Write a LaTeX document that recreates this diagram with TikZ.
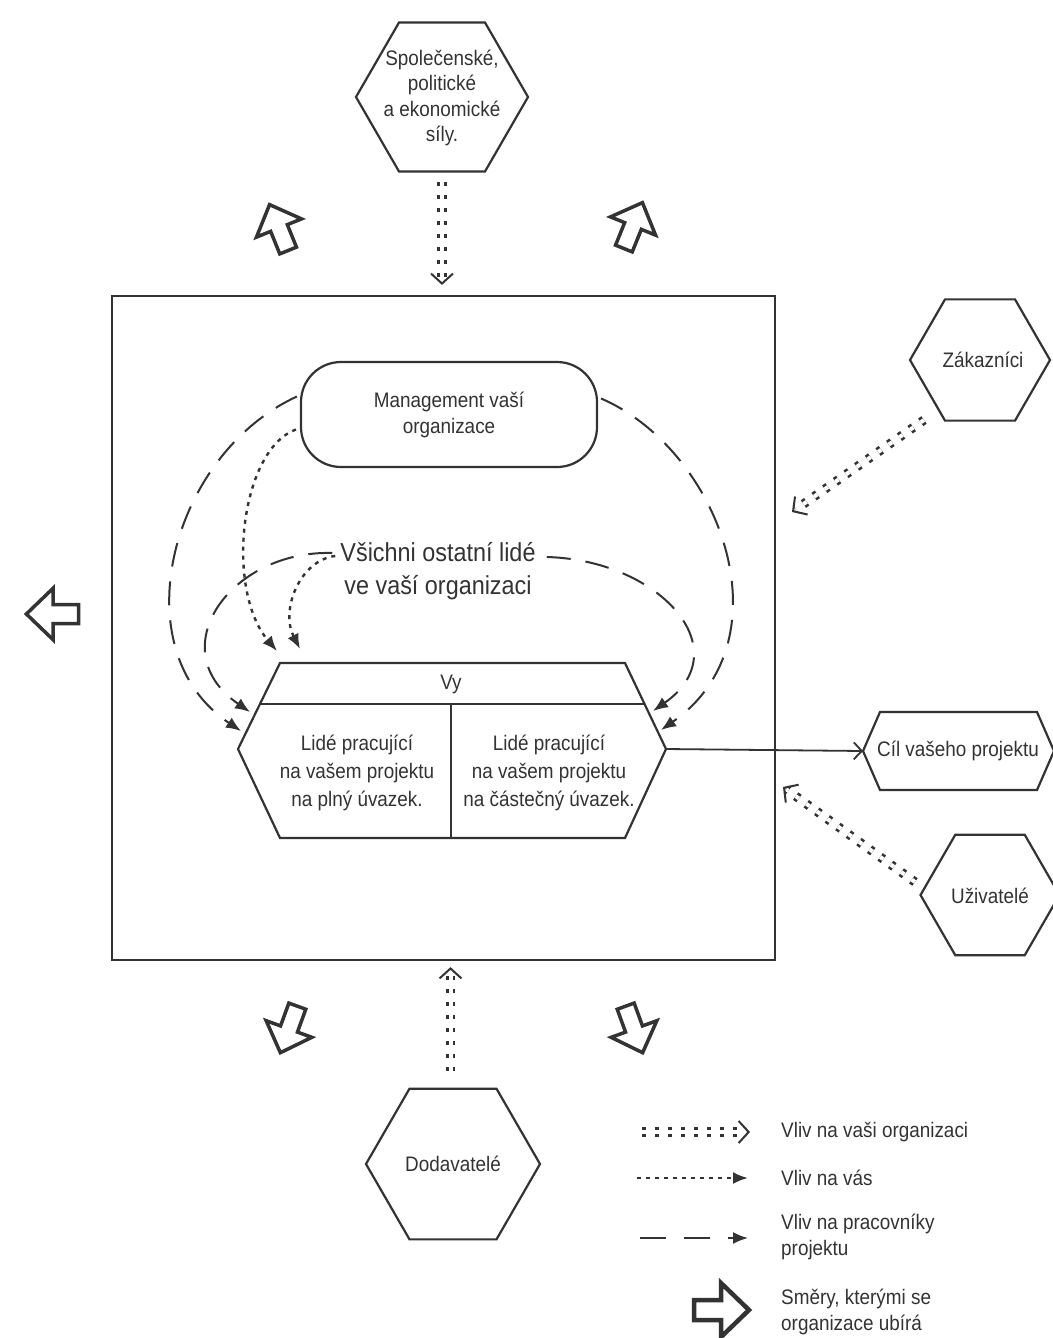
\documentclass[tikz,border=0pt]{standalone}
\usepackage{fontspec}
\setmainfont{Liberation Sans}[FakeStretch=0.9]
\usetikzlibrary{arrows.meta,shapes.geometric,calc}
\definecolor{ink}{HTML}{333333}
\tikzset{
  txt/.style={text=ink, font=\fontsize{21}{26}\selectfont, align=center, inner sep=0pt},
  hexa/.style={draw=ink, line width=2.2pt, regular polygon, regular polygon sides=6, minimum size=#1, inner sep=0pt},
  dd/.style={draw=ink, line width=2.6pt, double=white, double distance=4pt, dash pattern=on 4pt off 9pt, shorten >=4pt},
  ddtip/.style={draw=ink, line width=2pt, -{Straight Barb[length=10pt,width=22pt]}},
  dotarrow/.style={draw=ink, line width=2.4pt, dash pattern=on 4pt off 5pt, -{Latex[length=15pt,width=12pt]}},
  dasharrow/.style={draw=ink, line width=2pt, dash pattern=on 24pt off 15pt, -{Latex[length=15pt,width=12pt]}},
  solidarrow/.style={draw=ink, line width=1.8pt, -{Straight Barb[length=8pt,width=17pt]}},
  blockarrow/.pic={\draw[ink, line join=miter] (-27,-10) -- (0,-10) -- (0,-27) -- (28,0) -- (0,27) -- (0,10) -- (-27,10) -- cycle;},
}
\begin{document}
\begin{tikzpicture}[x=1pt,y=-1pt]
\useasboundingbox[fill=white] (0,0) rectangle (1052,1338);

% organisation box
\node[draw=ink, line width=2.2pt, minimum width=663pt, minimum height=664pt, inner sep=0pt] (org) at (443.5,628) {};

% outer hexagons
\node[hexa=172pt] (soc) at (442,97) {};
\node[txt, font=\fontsize{21}{25.5}\selectfont] (socT) at (442,98) {Společenské,\\politické\\a ekonomické\\síly.};
\node[hexa=140pt] (zak) at (980,360) {};
\node[txt] (zakT) at (983,360) {Zákazníci};
\node[hexa=139pt] (uzi) at (990,895) {};
\node[txt] (uziT) at (990,896) {Uživatelé};
\node[hexa=174pt] (dod) at (453,1164) {};
\node[txt] (dodT) at (453,1164) {Dodavatelé};

% goal hexagon
\draw[ink, line width=2.2pt, line join=miter] (863,751) -- (880,712) -- (1037,712) -- (1054,751) -- (1037,790) -- (880,790) -- cycle;
\node[txt] (cil) at (958,751) {Cíl vašeho projektu};

% management
\node[txt, draw=ink, line width=2.2pt, rounded corners=40pt, minimum width=296pt, minimum height=105pt] (mgmt) at (449,414.5) {Management vaší\\organizace};

% others
\node[txt, font=\fontsize{26}{33}\selectfont] (vsi) at (438,571) {Všichni ostatní lidé\\ve vaší organizaci};

% central hexagon
\draw[ink, line width=2.2pt, line join=miter] (280,663) -- (625,663) -- (666,749) -- (625,838) -- (280,838) -- (238,749) -- cycle;
\draw[ink, line width=2.2pt] (260,704) -- (645,704);
\draw[ink, line width=2.2pt] (451,704) -- (451,838);
\node[txt] (vy) at (451,684) {Vy};
\node[txt, font=\fontsize{21}{28}\selectfont] (full) at (357,773) {Lidé pracující\\na vašem projektu\\na plný úvazek.};
\node[txt, font=\fontsize{21}{28}\selectfont] (part) at (549,773) {Lidé pracující\\na vašem projektu\\na částečný úvazek.};
\coordinate (hexR) at (666,749);
\coordinate (cilL) at (863,751);
\coordinate (vyL1) at (241,731);
\coordinate (vyL2) at (250,712);
\coordinate (vyR1) at (661,730);
\coordinate (vyR2) at (653,711);
\coordinate (vyT1) at (277,651);
\coordinate (vyT2) at (300,649);

% connector to goal
\draw[solidarrow] (hexR) -- (cilL);

% influences on project workers (dashed)
\draw[dasharrow] ($(mgmt.west)+(-3,-18)$) .. controls (170,455) and (120,650) .. (vyL1);
\draw[dasharrow] ($(vsi.west)+(-8,-18)$) .. controls (230,550) and (160,650) .. (vyL2);
\draw[dasharrow] ($(mgmt.east)+(3,-16)$) .. controls (720,450) and (790,640) .. (vyR1);
\draw[dasharrow] ($(vsi.east)+(11,-14)$) .. controls (660,560) and (740,650) .. (vyR2);

% influences on you (dotted)
\draw[dotarrow] ($(mgmt.west)+(-4,15)$) .. controls (240,450) and (225,590) .. (vyT1);
\draw[dotarrow] ($(vsi.west)+(-5,-15)$) .. controls (300,560) and (280,610) .. (vyT2);

% influences on the organisation (double dotted)
\coordinate (socS) at ($(soc.south)+(0,9)$);
\coordinate (socE) at ($(soc.south |- org.north)+(0,-10)$);
\draw[dd] (socS) -- (socE);
\draw[ddtip] ($(socE)!2pt!(socS)$) -- (socE);

\coordinate (zakS) at ($(zak)+(-56,60)$);
\coordinate (zakE) at (792,512);
\draw[dd] (zakS) -- (zakE);
\draw[ddtip] ($(zakE)!2pt!(zakS)$) -- (zakE);

\coordinate (uziS) at ($(uzi)+(-75,-13)$);
\coordinate (uziE) at (783,787);
\draw[dd] (uziS) -- (uziE);
\draw[ddtip] ($(uziE)!2pt!(uziS)$) -- (uziE);

\coordinate (dodS) at ($(dod.north)+(-2.5,-17)$);
\coordinate (dodE) at ($(dod.north |- org.south)+(-2.5,6)$);
\draw[dd] (dodS) -- (dodE);
\draw[ddtip] ($(dodE)!2pt!(dodS)$) -- (dodE);

% directions of the organisation
\pic[rotate=112, scale=0.9, line width=3.5pt] at (279,228) {blockarrow};
\pic[rotate=68, scale=0.9, line width=3.5pt] at (633,226) {blockarrow};
\pic[rotate=180, scale=0.95, line width=3.5pt] at (53,614) {blockarrow};
\pic[rotate=250, scale=0.9, line width=3.5pt] at (289,1029) {blockarrow};
\pic[rotate=290, scale=0.9, line width=3.5pt] at (634,1029) {blockarrow};

% legend
\coordinate (l1a) at (642,1132);
\coordinate (l1b) at (750,1132);
\draw[dd] (l1a) -- (l1b);
\draw[ddtip] ($(l1b)!2pt!(l1a)$) -- (l1b);
\node[txt, anchor=west] (lg1) at (781,1132) {Vliv na vaši organizaci};

\coordinate (l2a) at (637,1178);
\coordinate (l2b) at (748,1178);
\draw[dotarrow] (l2a) -- (l2b);
\node[txt, anchor=west] (lg2) at (781,1178) {Vliv na vás};

\coordinate (l3a) at (640,1238);
\coordinate (l3b) at (748,1238);
\draw[dasharrow, dash pattern=on 26pt off 18pt] (l3a) -- (l3b);
\node[txt, anchor=west, align=left] (lg3) at (781,1237) {Vliv na pracovníky\\projektu};

\pic[line width=4.5pt] at (721,1310) {blockarrow};
\node[txt, anchor=west, align=left] (lg4) at (781,1312) {Směry, kterými se\\organizace ubírá};
\end{tikzpicture}
\end{document}
